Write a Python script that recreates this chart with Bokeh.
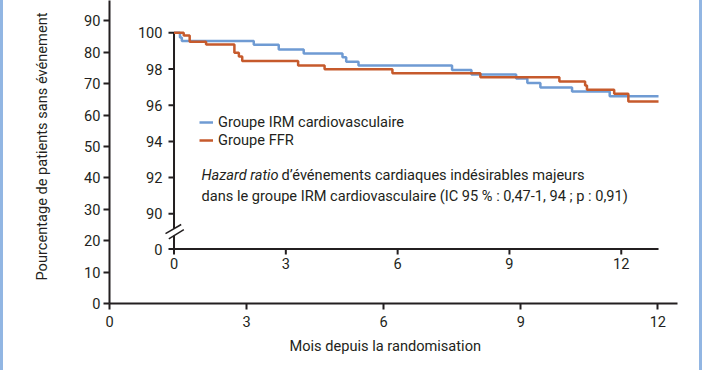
from bokeh.plotting import figure
from bokeh.models import Range1d, FixedTicker, Legend, LegendItem, Title
from bokeh.core.properties import value
from bokeh.embed import file_html
from bokeh.resources import INLINE

FONT = "Roboto"
FS = "14.6px"
INK = "#231f20"
BLUE = "#6f9bd3"
ORANGE = "#c65a2c"
FRAME_BLUE = "#92b6e3"

# ---- outer axes ----
outer_x_ticks = [0, 3, 6, 9, 12]
outer_y_ticks = [0, 10, 20, 30, 40, 50, 60, 70, 80, 90]
x_label = "Mois depuis la randomisation"
y_label = "Pourcentage de patients sans événement"

# ---- inset (zoomed) axes ----
inset_x_ticks = [0, 3, 6, 9, 12]
inset_y_ticks = [90, 92, 94, 96, 98, 100]
inset_break_label = "0"
inset_x_end = 13.0

# ---- Kaplan-Meier curves (months, % event-free) ----
irm_months = [0, 0.16, 0.21, 2.14, 2.81, 3.48, 4.52, 4.62, 4.95, 7.46, 7.98,
              9.18, 9.48, 9.83, 10.68, 11.69, 13.0]
irm_surv = [100, 99.74, 99.55, 99.34, 99.08, 98.86, 98.65, 98.40, 98.19, 97.94, 97.70,
            97.48, 97.23, 96.98, 96.76, 96.50, 96.50]
ffr_months = [0, 0.26, 0.42, 0.86, 1.62, 1.74, 1.83, 3.33, 4.04, 5.86, 8.22,
              10.34, 11.03, 11.08, 11.81, 12.19, 13.0]
ffr_surv = [100, 99.85, 99.50, 99.36, 98.90, 98.69, 98.44, 98.19, 97.99, 97.77, 97.55,
            97.31, 97.09, 96.85, 96.63, 96.20, 96.20]

legend_labels = ["Groupe IRM cardiovasculaire", "Groupe FFR"]
note_italic = "Hazard ratio"
note_rest = " d’événements cardiaques indésirables majeurs"
note_line2 = "dans le groupe IRM cardiovasculaire (IC 95 % : 0,47-1, 94 ; p : 0,91)"

# ---- figure ----
p = figure(width=702, height=370,
           x_range=Range1d(0, 12.43), y_range=Range1d(0, 96.47),
           output_backend="svg", toolbar_location=None,
           min_border_left=109, min_border_right=25,
           min_border_top=0, min_border_bottom=67)
p.outline_line_color = None
p.grid.visible = False
p.background_fill_color = None
p.border_fill_color = None
p.styles = {"box-shadow": f"inset 3px 0 0 0 {FRAME_BLUE}, inset -3px 0 0 0 {FRAME_BLUE}"}

for ax, ticks in ((p.xaxis[0], outer_x_ticks), (p.yaxis[0], outer_y_ticks)):
    ax.ticker = FixedTicker(ticks=ticks)
    ax.minor_tick_line_color = None
    ax.major_tick_in = 0
    ax.major_tick_out = 6
    ax.axis_line_width = 2
    ax.major_tick_line_width = 2
    ax.axis_line_color = INK
    ax.major_tick_line_color = INK
    ax.major_label_text_font = FONT
    ax.major_label_text_font_size = FS
    ax.major_label_text_color = INK

p.xaxis[0].major_label_standoff = 6
p.yaxis[0].major_label_standoff = 3

# axis titles placed as in the original
p.add_layout(Title(text=x_label, align="left", offset=180, standoff=11,
                   text_font=FONT, text_font_size=FS, text_font_style="normal",
                   text_color=INK), "below")
p.add_layout(Title(text=y_label, align="left", offset=23, standoff=61,
                   text_font=FONT, text_font_size=FS, text_font_style="normal",
                   text_color=INK), "left")

# ---- inset coordinate system ----
p.extra_x_ranges = {"ix": Range1d(-1.731, 13.509)}
p.extra_y_ranges = {"iy": Range1d(85.044, 101.785)}
IR = dict(x_range_name="ix", y_range_name="iy")
BRK = 88.055          # where the broken inset y axis shows "0"
TX, TY = 0.148, 0.30  # tick lengths in inset units

# inset axis lines
p.segment(x0=[0, 0, 0], y0=[BRK, BRK, 89.18], x1=[inset_x_end, 0, 0], y1=[BRK, 88.79, 100],
          line_color=INK, line_width=2, **IR)
# break marks
p.segment(x0=[-0.228, -0.140], y0=[88.90, 88.62], x1=[0.193, 0.263], y1=[89.41, 89.12],
          line_color=INK, line_width=1.5, **IR)
# inset y ticks + labels
ylev = inset_y_ticks + [BRK]
ylab = [str(v) for v in inset_y_ticks] + [inset_break_label]
p.segment(x0=[-TX] * len(ylev), y0=ylev, x1=[0] * len(ylev), y1=ylev,
          line_color=INK, line_width=2, **IR)
p.text(x=[0] * len(ylev), y=ylev, text=ylab, x_offset=-11.5,
       text_align="right", text_baseline="middle", text_font=value(FONT),
       text_font_size=FS, text_color=INK, **IR)
# inset x ticks + labels
p.segment(x0=inset_x_ticks, y0=[BRK] * len(inset_x_ticks), x1=inset_x_ticks,
          y1=[BRK - TY] * len(inset_x_ticks), line_color=INK, line_width=2, **IR)
p.text(x=inset_x_ticks, y=[BRK] * len(inset_x_ticks), text=[str(t) for t in inset_x_ticks],
       y_offset=9, text_align="center", text_baseline="top", text_font=value(FONT),
       text_font_size=FS, text_color=INK, **IR)

# curves
r_irm = p.step(irm_months, irm_surv, mode="after", line_color=BLUE, line_width=2.5, **IR)
r_ffr = p.step(ffr_months, ffr_surv, mode="after", line_color=ORANGE, line_width=2.5, **IR)

legend = Legend(items=[LegendItem(label=legend_labels[0], renderers=[r_irm]),
                       LegendItem(label=legend_labels[1], renderers=[r_ffr])],
                location=(90, 154), padding=0, margin=0, spacing=0,
                glyph_width=14, glyph_height=14, label_height=14, label_standoff=5,
                label_text_font=FONT, label_text_font_size=FS, label_text_color=INK,
                border_line_color=None, background_fill_alpha=0)
p.add_layout(legend)

# annotation
NX, NY1, NY2 = 0.738, 92.17, 91.01
p.text(x=[NX], y=[NY1], text=[note_italic], text_font=value(FONT), text_font_style="italic",
       text_font_size=FS, text_color=INK, text_baseline="middle", **IR)
p.text(x=[NX], y=[NY1], text=[note_rest], x_offset=80, text_font=value(FONT),
       text_font_size=FS, text_color=INK, text_baseline="middle", **IR)
p.text(x=[NX], y=[NY2], text=[note_line2], text_font=value(FONT),
       text_font_size=FS, text_color=INK, text_baseline="middle", **IR)

open("out.html", "w").write(file_html(p, INLINE))
